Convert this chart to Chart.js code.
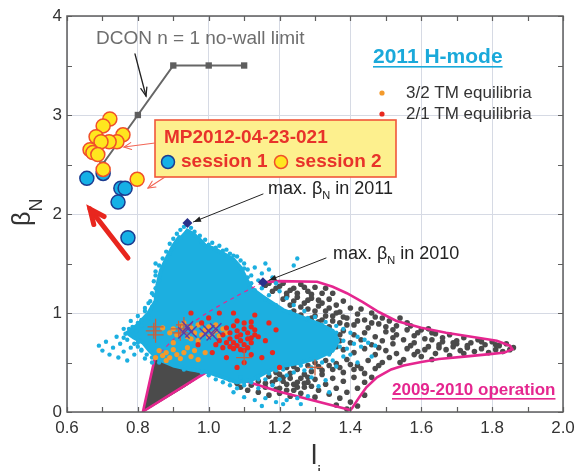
<!DOCTYPE html>
<html>
<head>
<meta charset="utf-8">
<script src="https://cdn.jsdelivr.net/npm/chart.js@4.4.1/dist/chart.umd.min.js"></script>
<style>
  html, body { margin: 0; padding: 0; background: #ffffff; }
  #wrap { position: relative; width: 575px; height: 471px; }
</style>
</head>
<body>
<div id="wrap"><canvas id="chart"></canvas></div>
<script>
// beta_N vs l_i operating space
const FONT = '"Liberation Sans", Arial, Helvetica, sans-serif';

const xTickLabels = ['0.6', '0.8', '1.0', '1.2', '1.4', '1.6', '1.8', '2.0'];
const yTickLabels = ['0', '1', '2', '3', '4'];
const xTickMarks = [0.6, 0.7, 0.8, 0.9, 1.0, 1.1, 1.2, 1.3, 1.4, 1.5, 1.6, 1.7, 1.8, 1.9, 2.0];
const yTickMarks = [0, 0.5, 1, 1.5, 2, 2.5, 3, 3.5, 4];

// DCON n = 1 no-wall limit
const dconLimit = [[0.7, 2.5], [0.8, 3.0], [0.9, 3.5], [1.0, 3.5], [1.1, 3.5]];

// MP2012-04-23-021 sessions
const session1 = [[0.656, 2.36], [0.702, 2.41], [0.752, 2.26], [0.764, 2.26], [0.744, 2.12], [0.772, 1.76]];
const session2 = [[0.721, 2.96], [0.702, 2.89], [0.682, 2.78], [0.758, 2.80], [0.741, 2.73], [0.719, 2.73],
  [0.696, 2.73], [0.665, 2.65], [0.673, 2.62], [0.687, 2.60], [0.702, 2.45], [0.798, 2.35]];

const maxBeta = [[0.94, 1.91], [1.153, 1.31]];

// 2011 H-mode: dense core outline and scattered shots
const hmodeCore = [[0.935, 1.84], [0.955, 1.8], [0.975, 1.74], [0.99, 1.68], [1.015, 1.65], [1.04, 1.6], [1.07, 1.54],
  [1.09, 1.46], [1.105, 1.35], [1.12, 1.25], [1.15, 1.17], [1.18, 1.1], [1.21, 1.03], [1.26, 0.96], [1.31, 0.89],
  [1.35, 0.82], [1.365, 0.72], [1.35, 0.62], [1.31, 0.55], [1.26, 0.5], [1.2, 0.46], [1.16, 0.4], [1.12, 0.32],
  [1.08, 0.3], [1.04, 0.35], [1.0, 0.4], [0.95, 0.43], [0.9, 0.47], [0.86, 0.53], [0.835, 0.61], [0.815, 0.7],
  [0.79, 0.75], [0.77, 0.8], [0.8, 0.88], [0.83, 1.0], [0.85, 1.12], [0.855, 1.28], [0.865, 1.43], [0.885, 1.58],
  [0.9, 1.68], [0.92, 1.78]];
const hmodeShots = [[0.69, 0.67], [0.7, 0.62], [0.71, 0.71], [0.72, 0.58], [0.73, 0.65], [0.74, 0.76], [0.745, 0.55],
  [0.75, 0.69], [0.76, 0.61], [0.76, 0.84], [0.77, 0.73], [0.77, 0.52], [0.78, 0.65], [0.78, 0.92], [0.79, 0.58],
  [0.795, 0.81], [0.8, 0.7], [0.8, 0.97], [0.81, 0.62], [0.81, 0.87], [0.82, 1.02], [0.82, 0.54], [0.83, 0.95],
  [0.83, 1.1], [0.84, 1.06], [0.84, 0.5], [0.845, 1.18], [0.85, 1.25], [0.85, 1.38], [0.86, 1.33], [0.86, 1.48],
  [0.87, 1.55], [0.88, 1.62], [0.89, 1.7], [0.9, 1.75], [0.91, 1.8], [0.92, 1.84], [0.93, 1.87], [0.95, 1.86],
  [0.96, 1.82], [0.975, 1.78], [0.99, 1.74], [1.01, 1.71], [1.03, 1.68], [1.05, 1.64], [1.06, 1.6], [1.08, 1.57],
  [1.1, 1.5], [1.11, 1.44], [1.12, 1.38], [1.13, 1.46], [1.14, 1.33], [1.15, 1.4], [1.16, 1.5], [1.17, 1.44],
  [1.18, 1.36], [1.19, 1.3], [1.2, 1.22], [1.22, 1.15], [1.25, 1.55], [1.24, 1.48], [1.15, 1.25], [1.17, 1.18],
  [1.24, 1.08], [1.27, 1.02], [1.3, 0.96], [1.33, 0.91], [1.36, 0.87], [1.38, 0.84], [1.4, 0.8], [1.42, 0.76],
  [1.44, 0.73], [1.41, 0.69], [1.43, 0.66], [1.39, 0.64], [1.4, 0.58], [1.38, 0.56], [1.35, 0.52], [1.32, 0.5],
  [1.36, 0.46], [1.45, 0.7], [1.47, 0.67], [1.29, 0.45], [1.27, 0.42], [1.24, 0.4], [1.22, 0.37], [1.2, 0.33],
  [1.18, 0.27], [1.16, 0.33], [1.14, 0.24], [1.12, 0.3], [1.1, 0.27], [1.08, 0.24], [1.06, 0.27], [1.04, 0.3],
  [1.02, 0.33], [1.0, 0.37], [0.98, 0.4], [1.07, 0.2], [1.1, 0.15], [1.13, 0.12], [1.16, 0.14], [1.19, 0.1],
  [1.22, 0.12], [1.25, 0.14], [1.28, 0.16], [1.31, 0.26], [1.33, 0.32], [1.29, 0.35], [1.21, 0.08], [1.15, 0.06],
  [1.26, 0.08], [1.09, 0.35], [1.14, 0.36], [1.19, 0.42], [1.34, 0.2], [1.42, 0.5], [1.46, 0.56],
  [0.89, 1.6], [0.9, 1.66], [0.91, 1.72], [0.92, 1.76], [0.94, 1.82], [0.96, 1.78], [0.98, 1.72], [1.0, 1.69],
  [1.02, 1.66], [1.04, 1.63], [1.07, 1.58], [1.09, 1.53], [1.1, 1.45], [1.11, 1.36], [1.12, 1.3], [1.13, 1.23],
  [1.16, 1.14], [1.19, 1.08], [1.23, 1.01], [1.28, 0.95], [1.32, 0.88], [1.36, 0.8], [1.38, 0.72], [1.37, 0.66],
  [1.34, 0.58], [1.3, 0.53], [0.85, 1.5], [0.85, 1.42], [0.845, 1.32], [0.84, 1.2], [0.835, 1.12], [0.82, 1.05],
  [0.81, 0.93], [0.8, 0.9], [0.785, 0.86], [0.775, 0.84], [0.765, 0.79], [0.76, 0.75], [0.79, 0.69], [0.8, 0.66],
  [0.81, 0.63], [0.825, 0.58], [0.84, 0.55], [0.86, 0.5], [0.93, 0.43], [0.97, 0.42], [1.02, 0.38], [1.06, 0.32],
  [1.1, 0.3], [1.14, 0.33], [1.17, 0.39], [1.21, 0.43], [1.26, 0.47]];

const tm32 = [[0.87, 0.85], [0.89, 0.8], [0.9, 0.84], [0.91, 0.78], [0.92, 0.87], [0.93, 0.82], [0.94, 0.76],
  [0.95, 0.85], [0.96, 0.8], [0.97, 0.88], [0.98, 0.78], [0.99, 0.83], [1.0, 0.86], [1.01, 0.79], [1.02, 0.82],
  [1.03, 0.77], [1.04, 0.84], [1.05, 0.8], [0.93, 0.9], [0.95, 0.74], [0.97, 0.72], [1.0, 0.76], [0.86, 0.62],
  [0.87, 0.57], [0.88, 0.6], [0.89, 0.55], [0.9, 0.63], [0.91, 0.58], [0.92, 0.54], [0.93, 0.6], [0.95, 0.56],
  [0.96, 0.62], [0.97, 0.53], [0.85, 0.55], [0.88, 0.52], [0.94, 0.65], [0.99, 0.6], [1.02, 0.88], [0.9, 0.7]];
const tm21 = [[1.05, 0.85], [1.06, 0.8], [1.07, 0.87], [1.08, 0.82], [1.09, 0.78], [1.1, 0.84], [1.11, 0.8],
  [1.12, 0.86], [1.06, 0.74], [1.07, 0.7], [1.08, 0.76], [1.09, 0.72], [1.1, 0.68], [1.11, 0.74], [1.12, 0.7],
  [1.13, 0.78], [1.04, 0.78], [1.05, 0.7], [1.06, 0.66], [1.07, 0.64], [1.08, 0.67], [1.09, 0.63], [1.1, 0.62],
  [1.11, 0.65], [1.12, 0.91], [1.1, 0.9], [1.08, 0.92], [1.13, 0.83], [1.14, 0.76], [1.12, 0.75], [1.03, 0.72],
  [1.02, 0.68], [1.04, 0.65], [0.98, 0.9], [1.0, 0.95], [1.03, 1.0], [1.07, 1.0], [1.13, 0.98], [1.17, 0.9],
  [1.16, 0.72], [1.18, 0.6], [1.15, 0.55], [1.1, 0.5], [1.05, 0.55], [1.01, 0.6], [0.97, 0.68], [0.95, 1.0],
  [1.19, 0.83], [1.12, 0.58], [1.2, 0.45], [1.08, 0.45]];

const plusMarks = [[0.845, 0.82], [0.85, 0.86], [0.85, 0.78], [0.915, 0.84], [0.92, 0.8], [0.93, 0.88], [1.1, 0.55], [1.3, 0.45]];
const crossMarks = [[0.94, 0.86], [0.95, 0.81], [0.93, 0.8], [1.0, 0.82], [1.01, 0.78], [1.02, 0.84], [0.99, 0.79]];

// 2009-2010 operation: dense lower-left patch and scattered shots
const opsCore = [[0.8145, 0.0], [0.835, 0.3], [0.848, 0.53], [0.9, 0.5], [0.96, 0.46], [1.003, 0.424], [0.93, 0.25], [0.8145, 0.0]];
const opsShots = [[1.16, 1.28], [1.18, 1.22], [1.2, 1.27], [1.22, 1.2], [1.24, 1.25], [1.26, 1.29], [1.28, 1.22],
  [1.3, 1.26], [1.32, 1.2], [1.34, 1.14], [1.21, 1.14], [1.23, 1.08], [1.25, 1.16], [1.27, 1.1], [1.29, 1.15],
  [1.31, 1.07], [1.33, 1.02], [1.36, 1.08], [1.38, 1.12], [1.24, 1.02], [1.26, 0.98], [1.28, 1.04], [1.3, 0.97],
  [1.32, 0.93], [1.35, 0.97], [1.37, 1.01], [1.4, 1.05], [1.27, 0.9], [1.3, 0.88], [1.34, 0.86],
  [1.39, 0.95], [1.42, 0.99], [1.44, 0.93], [1.47, 0.96], [1.41, 0.88], [1.45, 0.85], [1.48, 0.89], [1.51, 0.92],
  [1.53, 0.87], [1.56, 0.9], [1.38, 0.82], [1.41, 0.78], [1.44, 0.8], [1.47, 0.76], [1.5, 0.81], [1.53, 0.78],
  [1.56, 0.83], [1.59, 0.8], [1.62, 0.84], [1.37, 0.72], [1.4, 0.7], [1.43, 0.73], [1.46, 0.68], [1.49, 0.72],
  [1.52, 0.69], [1.55, 0.73], [1.58, 0.7], [1.61, 0.74], [1.38, 0.63], [1.41, 0.6], [1.44, 0.64], [1.47, 0.58],
  [1.5, 0.62], [1.53, 0.59], [1.56, 0.64], [1.59, 0.61], [1.62, 0.66], [1.45, 0.52], [1.49, 0.5], [1.55, 0.53],
  [1.64, 0.79], [1.66, 0.75], [1.68, 0.78], [1.7, 0.72], [1.72, 0.75], [1.74, 0.7], [1.76, 0.73], [1.78, 0.68],
  [1.8, 0.71], [1.82, 0.67], [1.84, 0.69], [1.86, 0.65], [1.65, 0.68], [1.67, 0.63], [1.69, 0.66], [1.71, 0.62],
  [1.73, 0.65], [1.75, 0.61], [1.77, 0.64], [1.79, 0.6], [1.81, 0.63], [1.83, 0.61], [1.64, 0.59], [1.68, 0.57],
  [1.72, 0.59], [1.6, 0.56], [1.63, 0.53], [1.85, 0.63], [1.66, 0.71], [1.7, 0.69],
  [1.33, 0.52], [1.36, 0.49], [1.39, 0.53], [1.42, 0.47], [1.35, 0.43], [1.38, 0.4], [1.41, 0.43], [1.44, 0.39],
  [1.47, 0.44], [1.32, 0.38], [1.35, 0.34], [1.38, 0.31], [1.41, 0.35], [1.44, 0.3], [1.33, 0.28], [1.36, 0.24],
  [1.39, 0.2], [1.42, 0.24], [1.44, 0.17], [1.31, 0.22], [1.34, 0.18], [1.37, 0.14], [1.4, 0.1], [1.42, 0.06],
  [1.39, 0.03], [1.36, 0.07], [1.3, 0.15], [1.28, 0.3], [1.26, 0.34], [1.29, 0.41], [1.31, 0.46], [1.27, 0.25],
  [1.24, 0.28], [1.46, 0.35], [1.48, 0.47],
  [1.06, 0.33], [1.08, 0.29], [1.1, 0.34], [1.12, 0.27], [1.14, 0.31], [1.16, 0.25], [1.18, 0.3], [1.2, 0.24],
  [1.22, 0.28], [1.24, 0.22], [1.26, 0.19], [1.13, 0.38], [1.15, 0.42], [1.17, 0.36], [1.19, 0.4], [1.21, 0.35],
  [1.23, 0.39], [1.25, 0.43], [1.27, 0.38], [1.11, 0.22], [1.14, 0.2], [1.17, 0.17], [1.2, 0.19], [1.23, 0.16],
  [1.09, 0.25], [1.22, 0.45], [1.18, 0.47], [1.28, 0.47], [1.3, 0.5], [1.26, 0.52],
  [1.34, 0.6], [1.36, 0.66], [1.33, 0.72], [1.37, 0.78],
  [1.17, 1.3], [1.19, 1.25], [1.21, 1.3], [1.23, 1.23], [1.25, 1.2], [1.27, 1.26], [1.29, 1.19], [1.31, 1.13],
  [1.33, 1.25], [1.35, 1.2], [1.22, 1.17], [1.24, 1.12], [1.26, 1.06], [1.28, 1.13], [1.3, 1.02], [1.32, 1.1],
  [1.34, 1.05], [1.36, 1.0], [1.38, 0.96], [1.29, 0.95], [1.31, 0.91], [1.33, 0.97], [1.35, 0.92], [1.37, 0.9],
  [1.39, 0.88], [1.42, 0.92], [1.43, 1.04], [1.46, 1.0], [1.49, 0.95], [1.5, 0.86], [1.54, 0.95], [1.57, 0.87],
  [1.6, 0.83], [1.63, 0.8], [1.52, 0.83], [1.46, 0.9],
  [1.12, 0.35], [1.16, 0.29], [1.19, 0.33], [1.21, 0.31], [1.23, 0.34], [1.25, 0.3], [1.27, 0.29], [1.29, 0.26],
  [1.25, 0.25], [1.22, 0.22], [1.19, 0.23], [1.2, 0.38], [1.24, 0.46], [1.28, 0.35], [1.3, 0.33], [1.32, 0.42],
  [1.34, 0.47], [1.37, 0.45], [1.4, 0.48], [1.43, 0.44],
  [1.52, 0.75], [1.58, 0.77], [1.63, 0.73], [1.57, 0.67], [1.61, 0.63], [1.65, 0.65], [1.69, 0.7], [1.73, 0.67],
  [1.77, 0.71], [1.81, 0.68], [1.48, 0.65], [1.51, 0.55], [1.58, 0.58], [1.54, 0.5]];

// boundary of the 2009-2010 operating space
const opsOutline = [[1.153, 1.31], [1.2, 1.322], [1.306, 1.315], [1.35, 1.265], [1.39, 1.2], [1.435, 1.11],
  [1.48, 1.01], [1.53, 0.92], [1.6, 0.85], [1.67, 0.8], [1.746, 0.758], [1.813, 0.72], [1.85, 0.67],
  [1.857, 0.635], [1.835, 0.6], [1.8, 0.587], [1.729, 0.562], [1.65, 0.535], [1.6, 0.505], [1.55, 0.47],
  [1.515, 0.43], [1.475, 0.35], [1.445, 0.25], [1.425, 0.15], [1.405, 0.04], [1.4, 0.02], [1.2, 0.205],
  [1.003, 0.424], [0.8145, 0.005], [0.848, 0.545]];
const opsOutlineHidden = [[0.848, 0.545], [0.899, 0.727], [0.939, 0.859], [0.995, 1.0], [1.069, 1.152], [1.153, 1.31]];

const CYAN = '#1cafe0';
const DARK = '#4b4b4b';
const MAGENTA = '#e5268f';

const xy = arr => arr.map(([x, y]) => ({ x, y }));

function dots(data, color, radius, order) {
  return { data: xy(data), backgroundColor: color, borderColor: color, borderWidth: 0,
    pointRadius: radius, order };
}

function arrow(ctx, x1, y1, x2, y2, o) {
  const ang = Math.atan2(y2 - y1, x2 - x1);
  const head = o.head || 8, spread = o.spread || 0.4;
  ctx.strokeStyle = o.color;
  ctx.fillStyle = o.color;
  ctx.lineWidth = o.width;
  ctx.lineCap = 'round';
  ctx.beginPath();
  ctx.moveTo(x1, y1);
  ctx.lineTo(x2, y2);
  ctx.stroke();
  ctx.beginPath();
  ctx.moveTo(x2 - head * Math.cos(ang - spread), y2 - head * Math.sin(ang - spread));
  ctx.lineTo(x2, y2);
  ctx.lineTo(x2 - head * Math.cos(ang + spread), y2 - head * Math.sin(ang + spread));
  if (o.filled) { ctx.closePath(); ctx.fill(); } else ctx.stroke();
}

// text runs with subscripts: [text, size, dy, bold]
function richText(ctx, x, y, runs, color) {
  ctx.fillStyle = color;
  ctx.textAlign = 'left';
  ctx.textBaseline = 'alphabetic';
  let cx = x;
  for (const [t, size, dy, bold] of runs) {
    ctx.font = (bold ? 'bold ' : '') + size + 'px ' + FONT;
    ctx.fillText(t, cx, y + (dy || 0));
    cx += ctx.measureText(t).width;
  }
  return cx;
}

function marker(ctx, x, y, r, fill, stroke) {
  ctx.beginPath();
  ctx.arc(x, y, r, 0, Math.PI * 2);
  ctx.fillStyle = fill;
  ctx.fill();
  ctx.lineWidth = 1.5;
  ctx.strokeStyle = stroke;
  ctx.stroke();
}

const annotations = {
  id: 'annotations',
  afterDatasetsDraw(chart) {
    const { ctx, chartArea: a, scales: { x, y } } = chart;
    ctx.save();

    // frame with inward ticks
    ctx.strokeStyle = '#5e5e5e';
    ctx.lineWidth = 1.5;
    ctx.strokeRect(a.left, a.top, a.right - a.left, a.bottom - a.top);
    ctx.lineWidth = 1.2;
    ctx.beginPath();
    xTickMarks.forEach(v => {
      const p = Math.round(x.getPixelForValue(v)) + 0.5;
      ctx.moveTo(p, a.bottom); ctx.lineTo(p, a.bottom - 5);
      ctx.moveTo(p, a.top); ctx.lineTo(p, a.top + 5);
    });
    yTickMarks.forEach(v => {
      const p = Math.round(y.getPixelForValue(v)) + 0.5;
      ctx.moveTo(a.left, p); ctx.lineTo(a.left + 5, p);
      ctx.moveTo(a.right, p); ctx.lineTo(a.right - 5, p);
    });
    ctx.stroke();

    // axis titles
    ctx.save();
    ctx.translate(30, 226);
    ctx.rotate(-Math.PI / 2);
    richText(ctx, 0, 0, [['β', 25], ['N', 18, 12]], '#333333');
    ctx.restore();
    richText(ctx, 311, 464, [['l', 28], ['i', 17, 13]], '#333333');

    // DCON label
    ctx.font = '19px ' + FONT;
    ctx.fillStyle = '#6e6e6e';
    ctx.textBaseline = 'middle';
    ctx.fillText('DCON n = 1 no-wall limit', 96, 39);
    arrow(ctx, 135, 54, 146, 96, { color: '#222222', width: 1.3, head: 9, spread: 0.35 });

    // 2011 H-mode legend
    ctx.font = 'bold 21px ' + FONT;
    ctx.fillStyle = '#1aa9da';
    ctx.fillText('2011 H-mode', 373, 57);
    const hw = ctx.measureText('2011 H-mode').width;
    ctx.fillRect(373, 66, hw, 1.6);
    ctx.beginPath(); ctx.arc(382, 93, 2.6, 0, Math.PI * 2); ctx.fillStyle = '#f39a2c'; ctx.fill();
    ctx.beginPath(); ctx.arc(382, 114, 2.6, 0, Math.PI * 2); ctx.fillStyle = '#e8281e'; ctx.fill();
    ctx.font = '17px ' + FONT;
    ctx.fillStyle = '#333333';
    ctx.fillText('3/2 TM equilibria', 406, 93);
    ctx.fillText('2/1 TM equilibria', 406, 114);

    // session box
    ctx.fillStyle = '#fdf08e';
    ctx.fillRect(155, 120, 241, 57);
    ctx.strokeStyle = '#f0573a';
    ctx.lineWidth = 1.6;
    ctx.strokeRect(155, 120, 241, 57);
    ctx.font = 'bold 19px ' + FONT;
    ctx.fillStyle = '#e8322a';
    ctx.textBaseline = 'middle';
    ctx.fillText('MP2012-04-23-021', 164, 138);
    marker(ctx, 168, 162, 6.5, '#15b0e6', '#1c3c90');
    ctx.fillStyle = '#e8322a';
    ctx.fillText('session 1', 181, 162);
    marker(ctx, 281, 162, 6.5, '#ffe61e', '#f0502a');
    ctx.fillStyle = '#e8322a';
    ctx.fillText('session 2', 295, 162);
    arrow(ctx, 155, 143, 124, 147, { color: '#f26656', width: 1.1, head: 8, spread: 0.45 });
    arrow(ctx, 165, 177, 148, 188, { color: '#f26656', width: 1.1, head: 8, spread: 0.45 });

    // trend arrow
    arrow(ctx, 128, 258, 90, 209, { color: '#e8261e', width: 5, head: 16, spread: 0.42 });

    // max beta_N labels
    const [d11x, d11y] = [x.getPixelForValue(maxBeta[0][0]), y.getPixelForValue(maxBeta[0][1])];
    const [d10x, d10y] = [x.getPixelForValue(maxBeta[1][0]), y.getPixelForValue(maxBeta[1][1])];
    richText(ctx, 268, 194, [['max. β', 18], ['N', 11, 5], [' in 2011', 18]], '#222222');
    arrow(ctx, 263, 194, d11x + 6, d11y - 1, { color: '#222222', width: 1, head: 8, spread: 0.35, filled: true });
    richText(ctx, 333, 259, [['max. β', 18], ['N', 11, 5], [' in 2010', 18]], '#222222');
    arrow(ctx, 326, 258, d10x + 6, d10y - 2, { color: '#222222', width: 1, head: 8, spread: 0.35, filled: true });

    // 2009-2010 operation label
    ctx.font = 'bold 17px ' + FONT;
    ctx.fillStyle = MAGENTA;
    ctx.textBaseline = 'middle';
    ctx.fillText('2009-2010 operation', 392, 390);
    const ow = ctx.measureText('2009-2010 operation').width;
    ctx.fillRect(392, 398, ow, 1.6);

    ctx.restore();
  }
};

new Chart(document.getElementById('chart'), {
  type: 'scatter',
  data: {
    datasets: [
      { type: 'line', data: xy(opsCore), fill: 'shape', backgroundColor: DARK, borderColor: DARK,
        borderWidth: 1, pointRadius: 0, tension: 0, order: 20 },
      dots(opsShots, DARK, 2.8, 19),
      { type: 'line', data: xy(opsOutline), fill: false, borderColor: MAGENTA, borderWidth: 2.6,
        pointRadius: 0, tension: 0, order: 18 },
      { type: 'line', data: xy(hmodeCore), fill: 'shape', backgroundColor: CYAN, borderColor: CYAN,
        borderWidth: 4, borderJoinStyle: 'round', pointRadius: 0, tension: 0, order: 17 },
      dots(hmodeShots, CYAN, 2.2, 16),
      { type: 'line', data: xy(opsOutlineHidden), fill: false, borderColor: MAGENTA, borderWidth: 1.2,
        borderDash: [4, 4], pointRadius: 0, tension: 0.3, order: 15 },
      dots(tm32, '#f39a2c', 2.6, 14),
      dots(tm21, '#e8281e', 2.6, 13),
      { data: xy(plusMarks), pointStyle: 'cross', pointRadius: 8, borderColor: '#c8603e', borderWidth: 1.3, order: 12 },
      { data: xy(crossMarks), pointStyle: 'crossRot', pointRadius: 8, borderColor: '#5b3ea8', borderWidth: 1.4, order: 11 },
      { data: xy(maxBeta), pointStyle: 'rectRot', pointRadius: 5, backgroundColor: '#2b318a',
        borderColor: '#2b318a', borderWidth: 0, order: 10 },
      { type: 'line', data: xy(dconLimit), borderColor: '#666666', borderWidth: 2, fill: false, tension: 0,
        pointStyle: 'rect', pointRadius: 4.5, pointBackgroundColor: '#5e5e5e', pointBorderWidth: 0, order: 9 },
      { data: xy(session1), pointRadius: 7, backgroundColor: '#15b0e6', borderColor: '#1c3c90', borderWidth: 1.5, order: 8 },
      { data: xy(session2), pointRadius: 7, backgroundColor: '#ffe61e', borderColor: '#f0502a', borderWidth: 1.5, order: 7 }
    ]
  },
  options: {
    responsive: true,
    maintainAspectRatio: false,
    animation: false,
    events: [],
    layout: { padding: { top: 16, right: 12, left: 0, bottom: 0 } },
    plugins: { legend: { display: false }, tooltip: { enabled: false } },
    scales: {
      x: {
        type: 'linear', min: 0.6, max: 2.0,
        border: { display: false },
        grid: { color: '#d6dae4', lineWidth: 1, drawTicks: false },
        ticks: { stepSize: 0.2, padding: 6, color: '#333333', font: { family: FONT, size: 17 },
          callback: (v, i) => xTickLabels[i] },
        afterFit: s => { s.height = 59; s.paddingLeft = 0; s.paddingRight = 0; }
      },
      y: {
        type: 'linear', min: 0, max: 4,
        border: { display: false },
        grid: { color: '#d6dae4', lineWidth: 1, drawTicks: false },
        ticks: { stepSize: 1, padding: 5, color: '#333333', font: { family: FONT, size: 17 },
          callback: (v, i) => yTickLabels[i] },
        afterFit: s => { s.width = 67; s.paddingTop = 0; s.paddingBottom = 0; }
      }
    }
  },
  plugins: [annotations]
});
</script>
</body>
</html>
